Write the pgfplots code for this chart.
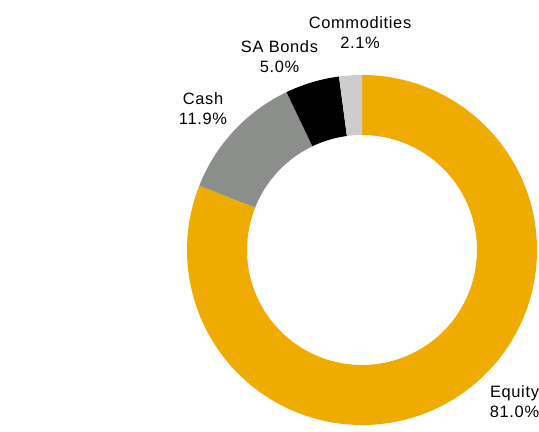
\documentclass[border=0pt]{standalone}
\usepackage{fontspec}
\setmainfont{Liberation Sans}[LetterSpace=4]
\usepackage{pgfplots}
\usepackage{pgfplotstable}
\pgfplotsset{compat=1.18}

\definecolor{slice0}{RGB}{240,171,0}   % Equity
\definecolor{slice1}{RGB}{140,142,140} % Cash
\definecolor{slice2}{RGB}{0,0,0}       % SA Bonds
\definecolor{slice3}{RGB}{205,205,205} % Commodities

% share in %, label position (pixels, y up)
\pgfplotstableread{
name share lx ly
Equity 81.0 514.5 34
Cash 11.9 203 327
{SA Bonds} 5.0 279.5 379
Commodities 2.1 360 403
}\allocation

\tikzset{lbl/.style={anchor=base, text=black, inner sep=0pt, font=\fontsize{16.5}{19}\selectfont}}

\begin{document}
\begin{tikzpicture}
\begin{axis}[
    width=539bp,
    height=432bp,
    scale only axis,
    xmin=0, xmax=539,
    ymin=0, ymax=432,
    hide axis,
    clip=false,
]
\pgfmathsetmacro\startangle{90}
\pgfplotsforeachungrouped \i in {0,...,3}{
    \pgfplotstablegetelem{\i}{share}\of\allocation
    \let\share\pgfplotsretval
    \pgfplotstablegetelem{\i}{name}\of\allocation
    \let\name\pgfplotsretval
    \pgfplotstablegetelem{\i}{lx}\of\allocation
    \let\lx\pgfplotsretval
    \pgfplotstablegetelem{\i}{ly}\of\allocation
    \let\ly\pgfplotsretval
    \pgfmathsetmacro\lyy{\ly-19.5}
    \pgfmathsetmacro\endangle{\startangle-3.6*\share}
    \edef\slicecmd{%
        \noexpand\fill[slice\i] (axis cs:362,182) ++(\startangle:175bp)
            arc[start angle=\startangle, end angle=\endangle, radius=175bp]
            -- ++(\endangle+180:60bp)
            arc[start angle=\endangle, end angle=\startangle, radius=115bp] -- cycle;
        \noexpand\node[lbl] at (axis cs:\lx,\ly) {\name};
        \noexpand\node[lbl] at (axis cs:\lx,\lyy) {\share\noexpand\%};
    }
    \slicecmd
    \global\let\startangle\endangle
}
\end{axis}
\pgfresetboundingbox
\path[use as bounding box] (current axis.south west) rectangle (current axis.north east);
\end{tikzpicture}
\end{document}
